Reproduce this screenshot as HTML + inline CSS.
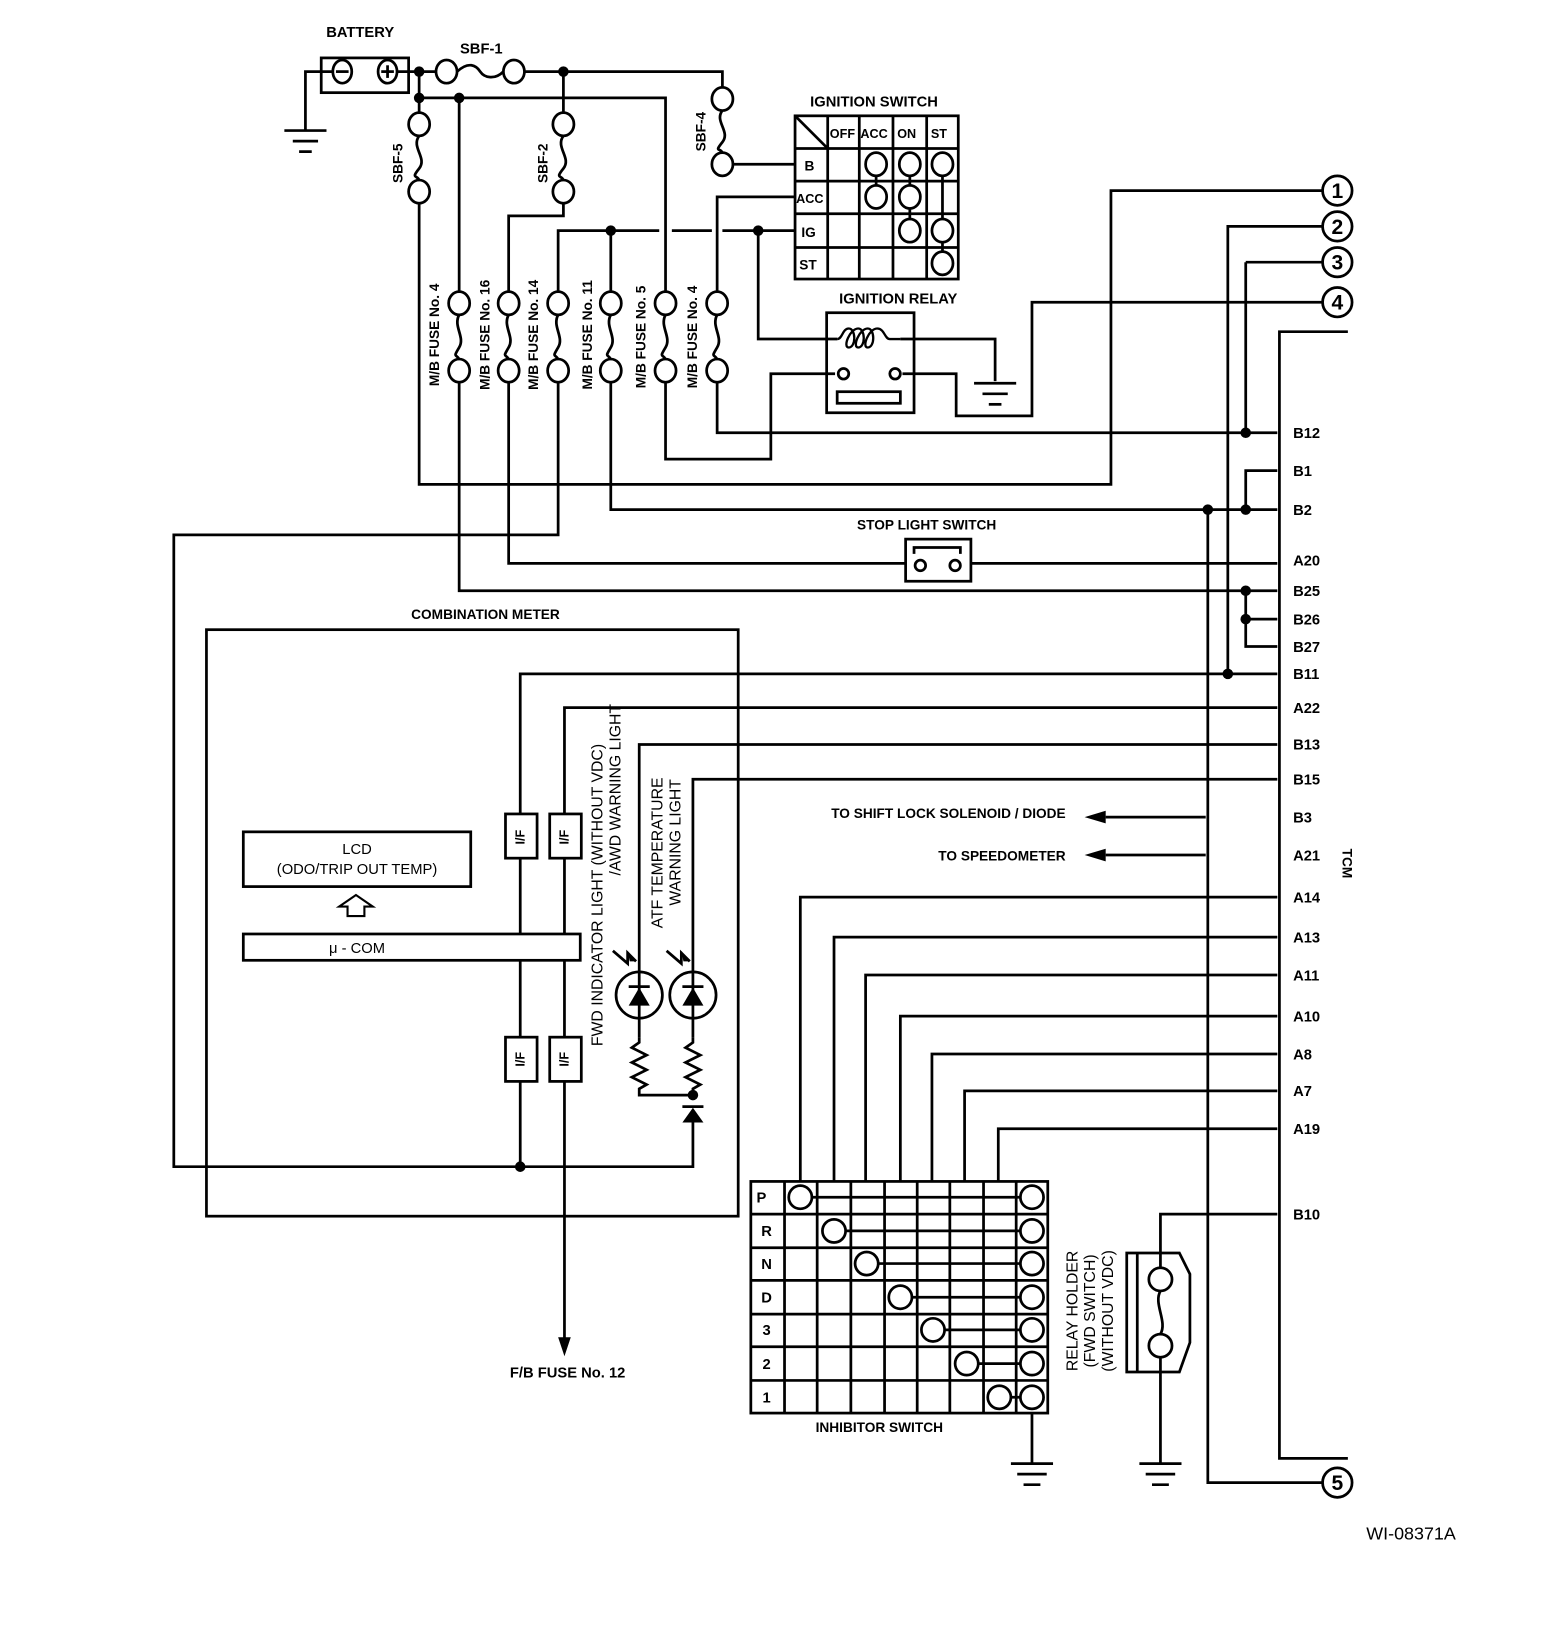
<!DOCTYPE html>
<html><head><meta charset="utf-8"><style>
html,body{margin:0;padding:0;background:#fff}
svg{display:block}
text{font-family:"Liberation Sans",Arial,sans-serif;font-weight:bold;fill:#000}
</style></head><body>
<svg width="1568" height="1650" viewBox="0 0 1489 1567" xmlns="http://www.w3.org/2000/svg">
<g fill="none" stroke="#000" stroke-width="2.6">
<rect x="305" y="55" width="83" height="33"/>
<ellipse cx="325" cy="68" rx="9" ry="11"/><line x1="319" y1="68" x2="331" y2="68"/>
<ellipse cx="368" cy="68" rx="9" ry="11"/><line x1="362" y1="68" x2="374" y2="68"/><line x1="368" y1="62" x2="368" y2="74"/>
<polyline points="316,68 290,68 290,124"/>
<line x1="270" y1="124" x2="310" y2="124"/><line x1="278" y1="134" x2="302" y2="134"/><line x1="284" y1="144" x2="296" y2="144"/>
<line x1="377" y1="68" x2="414" y2="68"/>
<ellipse cx="424" cy="68" rx="10" ry="11"/><ellipse cx="488" cy="68" rx="10" ry="11"/>
<path d="M434,68 C445,58 452,62 456,68 S470,76 478,68"/>
<polyline points="498,68 686,68 686,84"/>
<ellipse cx="686" cy="94" rx="10" ry="11"/><ellipse cx="686" cy="156" rx="10" ry="11"/>
<path d="M686,105 C678,115 694,125 686,135 S684,140 686,145"/>
<line x1="696" y1="156" x2="755" y2="156"/>
<line x1="398" y1="68" x2="398" y2="108"/>
<polyline points="398,93 632,93 632,278"/>
<ellipse cx="398" cy="118" rx="10" ry="11"/><ellipse cx="398" cy="182" rx="10" ry="11"/>
<path d="M398,129 C390,140 406,150 398,160 S396,166 398,171"/>
<polyline points="398,193 398,460 1055,460 1055,181 1256,181"/>
<line x1="535" y1="68" x2="535" y2="108"/>
<ellipse cx="535" cy="118" rx="10" ry="11"/><ellipse cx="535" cy="182" rx="10" ry="11"/>
<path d="M535,129 C527,140 543,150 535,160 S533,166 535,171"/>
<polyline points="535,193 535,205 483,205 483,278"/>
<line x1="436" y1="93" x2="436" y2="278"/>
<polyline points="530,278 530,219 626,219"/><line x1="638" y1="219" x2="676" y2="219"/><line x1="686" y1="219" x2="755" y2="219"/>
<line x1="580" y1="219" x2="580" y2="278"/>
<polyline points="755,187 681,187 681,278"/>
<polyline points="720,219 720,322 795,322"/>
<g id="fz">
<ellipse cx="436" cy="288" rx="10" ry="11"/><ellipse cx="436" cy="352" rx="10" ry="11"/>
<path d="M436,299 C430,310 442,320 436,330 S433,336 436,341"/>
</g>
<use href="#fz" x="47"/><use href="#fz" x="94"/><use href="#fz" x="144"/><use href="#fz" x="196"/><use href="#fz" x="245"/>
<polyline points="436,363 436,561 1213,561"/>
<polyline points="483,363 483,535 860,535"/><line x1="922" y1="535" x2="1213" y2="535"/>
<polyline points="530,363 530,508 165,508 165,1108 658,1108 658,1066"/>
<polyline points="580,363 580,484 1213,484"/>
<polyline points="632,363 632,436 732,436 732,355 793,355"/>
<polyline points="681,363 681,411 1213,411"/>
<polyline points="1183,249 1256,249"/><line x1="1183" y1="249" x2="1183" y2="411"/>
<polyline points="1166,640 1166,215 1256,215"/>
<polyline points="1147,484 1147,1408 1256,1408"/>
<polyline points="1183,484 1183,447 1213,447"/>
<polyline points="1183,561 1183,614 1213,614"/><line x1="1183" y1="588" x2="1213" y2="588"/>
<polyline points="1256,287 980,287 980,395 908,395 908,355 857,355"/>
<polyline points="855,322 945,322 945,362"/>
<line x1="925" y1="364" x2="965" y2="364"/><line x1="933" y1="374" x2="957" y2="374"/><line x1="939" y1="384" x2="951" y2="384"/>
<polyline points="1280,315 1215,315 1215,1385 1280,1385"/>
<circle cx="1270" cy="181" r="14"/><circle cx="1270" cy="215" r="14"/><circle cx="1270" cy="249" r="14"/><circle cx="1270" cy="287" r="14"/><circle cx="1270" cy="1408" r="14"/>
<rect x="785" y="297" width="83" height="95"/>
<path d="M795,322 C800,322 800,312 806,312 C813,312 813,330 806,330 C800,330 807,312 815,312 C822,312 822,330 815,330 C809,330 816,312 824,312 C831,312 831,330 824,330 C818,330 825,312 833,312 C840,312 840,322 845,322 L855,322" stroke-width="2.2"/>
<circle cx="801" cy="355" r="5"/><circle cx="850" cy="355" r="5"/>
<rect x="795" y="372" width="60" height="11"/>
<rect x="755" y="110" width="155" height="155"/>
<line x1="786" y1="110" x2="786" y2="265"/><line x1="816" y1="110" x2="816" y2="265"/><line x1="848" y1="110" x2="848" y2="265"/><line x1="880" y1="110" x2="880" y2="265"/>
<line x1="755" y1="141" x2="910" y2="141"/><line x1="755" y1="172" x2="910" y2="172"/><line x1="755" y1="203" x2="910" y2="203"/><line x1="755" y1="235" x2="910" y2="235"/>
<line x1="755" y1="110" x2="786" y2="141"/>
<g fill="#fff">
<line x1="832" y1="156" x2="832" y2="187"/><line x1="864" y1="156" x2="864" y2="219"/><line x1="895" y1="156" x2="895" y2="250"/>
<ellipse cx="832" cy="156" rx="10" ry="11"/><ellipse cx="864" cy="156" rx="10" ry="11"/><ellipse cx="895" cy="156" rx="10" ry="11"/>
<ellipse cx="832" cy="187" rx="10" ry="11"/><ellipse cx="864" cy="187" rx="10" ry="11"/>
<ellipse cx="864" cy="219" rx="10" ry="11"/><ellipse cx="895" cy="219" rx="10" ry="11"/>
<ellipse cx="895" cy="250" rx="10" ry="11"/>
</g>
<rect x="860" y="512" width="62" height="40"/>
<circle cx="874" cy="537" r="5"/><circle cx="907" cy="537" r="5"/>
<polyline points="868,526 868,520 912,520 912,526"/>
<rect x="196" y="598" width="505" height="557"/>
<rect x="231" y="790" width="216" height="52"/>
<rect x="231" y="887" width="320" height="25"/>
<polygon points="330,870 346,870 346,861 354,861 338,850 322,861 330,861" stroke-width="2"/>
<polyline points="1213,640 494,640 494,773"/><line x1="494" y1="815" x2="494" y2="887"/><line x1="494" y1="912" x2="494" y2="985"/><line x1="494" y1="1027" x2="494" y2="1108"/>
<polyline points="1213,672 536,672 536,773"/><line x1="536" y1="815" x2="536" y2="887"/><line x1="536" y1="912" x2="536" y2="985"/><line x1="536" y1="1027" x2="536" y2="1272"/>
<rect x="480" y="773" width="30" height="42"/><rect x="522" y="773" width="30" height="42"/>
<rect x="480" y="985" width="30" height="42"/><rect x="522" y="985" width="30" height="42"/>
<polyline points="1213,707 607,707 607,985"/>
<polyline points="1213,740 658,740 658,985"/>
<circle cx="607" cy="945" r="22"/><circle cx="658" cy="945" r="22"/>
<line x1="597" y1="937" x2="617" y2="937"/><line x1="648" y1="937" x2="668" y2="937"/>
<polyline points="607,985 607,990 600,995 614,1002 600,1009 614,1016 600,1023 614,1030 607,1034 607,1040 658,1040"/>
<polyline points="658,985 658,990 651,995 665,1002 651,1009 665,1016 651,1023 665,1030 658,1034 658,1040"/>
<line x1="648" y1="1051" x2="668" y2="1051"/>
<path d="M582,903 L596,915 L596,905 L604,913"/><path d="M633,903 L647,915 L647,905 L655,913"/>
<line x1="1050" y1="776" x2="1145" y2="776"/><line x1="1050" y1="812" x2="1145" y2="812"/>
<polyline points="1213,852 760,852 760,1122"/>
<polyline points="1213,890 792,890 792,1122"/>
<polyline points="1213,926 822,926 822,1122"/>
<polyline points="1213,965 855,965 855,1122"/>
<polyline points="1213,1001 885,1001 885,1122"/>
<polyline points="1213,1036 916,1036 916,1122"/>
<polyline points="1213,1072 948,1072 948,1122"/>
<rect x="713" y="1122" width="282" height="220"/>
<line x1="745" y1="1122" x2="745" y2="1342"/><line x1="776" y1="1122" x2="776" y2="1342"/><line x1="808" y1="1122" x2="808" y2="1342"/><line x1="840" y1="1122" x2="840" y2="1342"/><line x1="871" y1="1122" x2="871" y2="1342"/><line x1="902" y1="1122" x2="902" y2="1342"/><line x1="934" y1="1122" x2="934" y2="1342"/><line x1="965" y1="1122" x2="965" y2="1342"/>
<line x1="713" y1="1153" x2="995" y2="1153"/><line x1="713" y1="1185" x2="995" y2="1185"/><line x1="713" y1="1216" x2="995" y2="1216"/><line x1="713" y1="1248" x2="995" y2="1248"/><line x1="713" y1="1279" x2="995" y2="1279"/><line x1="713" y1="1311" x2="995" y2="1311"/>
<line x1="760" y1="1137" x2="980" y2="1137"/><line x1="792" y1="1169" x2="980" y2="1169"/><line x1="823" y1="1200" x2="980" y2="1200"/><line x1="855" y1="1232" x2="980" y2="1232"/><line x1="886" y1="1263" x2="980" y2="1263"/><line x1="918" y1="1295" x2="980" y2="1295"/><line x1="949" y1="1327" x2="980" y2="1327"/>
<g fill="#fff">
<circle cx="760" cy="1137" r="11"/><circle cx="792" cy="1169" r="11"/><circle cx="823" cy="1200" r="11"/><circle cx="855" cy="1232" r="11"/><circle cx="886" cy="1263" r="11"/><circle cx="918" cy="1295" r="11"/><circle cx="949" cy="1327" r="11"/>
<circle cx="980" cy="1137" r="11"/><circle cx="980" cy="1169" r="11"/><circle cx="980" cy="1200" r="11"/><circle cx="980" cy="1232" r="11"/><circle cx="980" cy="1263" r="11"/><circle cx="980" cy="1295" r="11"/><circle cx="980" cy="1327" r="11"/>
</g>
<line x1="980" y1="1342" x2="980" y2="1390"/>
<line x1="960" y1="1390" x2="1000" y2="1390"/><line x1="966" y1="1400" x2="994" y2="1400"/><line x1="972" y1="1410" x2="988" y2="1410"/>
<polyline points="1213,1153 1102,1153 1102,1203"/>
<path d="M1070,1190 L1120,1190 L1130,1210 L1130,1275 L1120,1303 L1070,1303 Z"/><line x1="1080" y1="1190" x2="1080" y2="1303"/>
<circle cx="1102" cy="1215" r="11"/><circle cx="1102" cy="1278" r="11"/>
<path d="M1102,1226 C1095,1238 1109,1255 1102,1267"/>
<line x1="1102" y1="1289" x2="1102" y2="1390"/>
<line x1="1082" y1="1390" x2="1122" y2="1390"/><line x1="1088" y1="1400" x2="1116" y2="1400"/><line x1="1094" y1="1410" x2="1110" y2="1410"/>
</g>
<g fill="#000">
<circle cx="398" cy="68" r="5"/><circle cx="535" cy="68" r="5"/><circle cx="398" cy="93" r="5"/><circle cx="436" cy="93" r="5"/>
<circle cx="580" cy="219" r="5"/><circle cx="720" cy="219" r="5"/>
<circle cx="1183" cy="411" r="5"/><circle cx="1147" cy="484" r="5"/><circle cx="1183" cy="484" r="5"/><circle cx="1183" cy="561" r="5"/><circle cx="1183" cy="588" r="5"/><circle cx="1166" cy="640" r="5"/>
<circle cx="494" cy="1108" r="5"/><circle cx="658" cy="1040" r="5"/>
<polygon points="597,955 617,955 607,938"/><polygon points="648,955 668,955 658,938"/>
<polygon points="648,1066 668,1066 658,1052"/>
<polygon points="596,903 604,913 598,913"/><polygon points="647,903 655,913 649,913"/>
<polygon points="1030,776 1050,770 1050,782"/><polygon points="1030,812 1050,806 1050,818"/>
<polygon points="530,1270 542,1270 536,1288"/>
</g>
<g font-size="14">
<text x="342" y="35" text-anchor="middle">BATTERY</text>
<text x="457" y="51" text-anchor="middle">SBF-1</text>
<text x="830" y="101" text-anchor="middle">IGNITION SWITCH</text>
<text x="853" y="288" text-anchor="middle">IGNITION RELAY</text>
<text x="880" y="503" text-anchor="middle" font-size="13">STOP LIGHT SWITCH</text>
<text x="461" y="588" text-anchor="middle" font-size="13">COMBINATION METER</text>
<text x="835" y="1360" text-anchor="middle" font-size="13">INHIBITOR SWITCH</text>
<text x="539" y="1308" text-anchor="middle">F/B FUSE No. 12</text>
<text x="1012" y="777" text-anchor="end" font-size="13">TO SHIFT LOCK SOLENOID / DIODE</text>
<text x="1012" y="817" text-anchor="end" font-size="13">TO SPEEDOMETER</text>
<text x="339" y="811" text-anchor="middle" style="font-weight:normal">LCD</text>
<text x="339" y="830" text-anchor="middle" style="font-weight:normal">(ODO/TRIP OUT TEMP)</text>
<text x="339" y="905" text-anchor="middle" style="font-weight:normal">μ - COM</text>
<text x="1340" y="1462" text-anchor="middle" style="font-weight:normal" font-size="17">WI-08371A</text>
</g>
<g font-size="13">
<text x="764" y="162">B</text><text x="756" y="193" font-size="12">ACC</text><text x="761" y="225">IG</text><text x="759" y="256">ST</text>
<text x="788" y="131" font-size="12">OFF</text><text x="817" y="131" font-size="12">ACC</text><text x="852" y="131" font-size="12">ON</text><text x="884" y="131" font-size="12">ST</text>
</g>
<g font-size="14">
<text x="1228" y="416">B12</text><text x="1228" y="452">B1</text><text x="1228" y="489">B2</text><text x="1228" y="537">A20</text><text x="1228" y="566">B25</text><text x="1228" y="593">B26</text><text x="1228" y="619">B27</text><text x="1228" y="645">B11</text><text x="1228" y="677">A22</text><text x="1228" y="712">B13</text><text x="1228" y="745">B15</text><text x="1228" y="781">B3</text><text x="1228" y="817">A21</text><text x="1228" y="857">A14</text><text x="1228" y="895">A13</text><text x="1228" y="931">A11</text><text x="1228" y="970">A10</text><text x="1228" y="1006">A8</text><text x="1228" y="1041">A7</text><text x="1228" y="1077">A19</text><text x="1228" y="1158">B10</text>
</g>
<g font-size="14" text-anchor="middle">
<text x="723" y="1142">P</text><text x="728" y="1174">R</text><text x="728" y="1205">N</text><text x="728" y="1237">D</text><text x="728" y="1268">3</text><text x="728" y="1300">2</text><text x="728" y="1332">1</text>
<text x="494" y="799" font-size="12" transform="rotate(-90 494 795)">I/F</text>
<text x="536" y="799" font-size="12" transform="rotate(-90 536 795)">I/F</text>
<text x="494" y="1010" font-size="12" transform="rotate(-90 494 1006)">I/F</text>
<text x="536" y="1010" font-size="12" transform="rotate(-90 536 1006)">I/F</text>
</g>
<g font-size="20" text-anchor="middle">
<text x="1270" y="188">1</text><text x="1270" y="222">2</text><text x="1270" y="256">3</text><text x="1270" y="294">4</text><text x="1270" y="1415">5</text>
</g>
<g font-size="13" text-anchor="middle">
<text transform="translate(382,155) rotate(-90)">SBF-5</text>
<text transform="translate(520,155) rotate(-90)">SBF-2</text>
<text transform="translate(670,125) rotate(-90)">SBF-4</text>
<text transform="translate(417,318) rotate(-90)">M/B FUSE No. 4</text>
<text transform="translate(465,318) rotate(-90)">M/B FUSE No. 16</text>
<text transform="translate(511,318) rotate(-90)">M/B FUSE No. 14</text>
<text transform="translate(562,318) rotate(-90)">M/B FUSE No. 11</text>
<text transform="translate(613,320) rotate(-90)">M/B FUSE No. 5</text>
<text transform="translate(662,320) rotate(-90)">M/B FUSE No. 4</text>
<text transform="translate(1275,820) rotate(90)">TCM</text>
</g>
<g font-size="15" text-anchor="middle" style="font-weight:normal">
<text transform="translate(572,850) rotate(-90)" style="font-weight:normal">FWD INDICATOR LIGHT (WITHOUT VDC)</text>
<text transform="translate(589,750) rotate(-90)" style="font-weight:normal">/AWD WARNING LIGHT</text>
<text transform="translate(629,810) rotate(-90)" style="font-weight:normal">ATF TEMPERATURE</text>
<text transform="translate(646,800) rotate(-90)" style="font-weight:normal">WARNING LIGHT</text>
<text transform="translate(1023,1245) rotate(-90)" style="font-weight:normal">RELAY HOLDER</text>
<text transform="translate(1040,1245) rotate(-90)" style="font-weight:normal">(FWD SWITCH)</text>
<text transform="translate(1057,1245) rotate(-90)" style="font-weight:normal">(WITHOUT VDC)</text>
</g>
</svg>
</body></html>
